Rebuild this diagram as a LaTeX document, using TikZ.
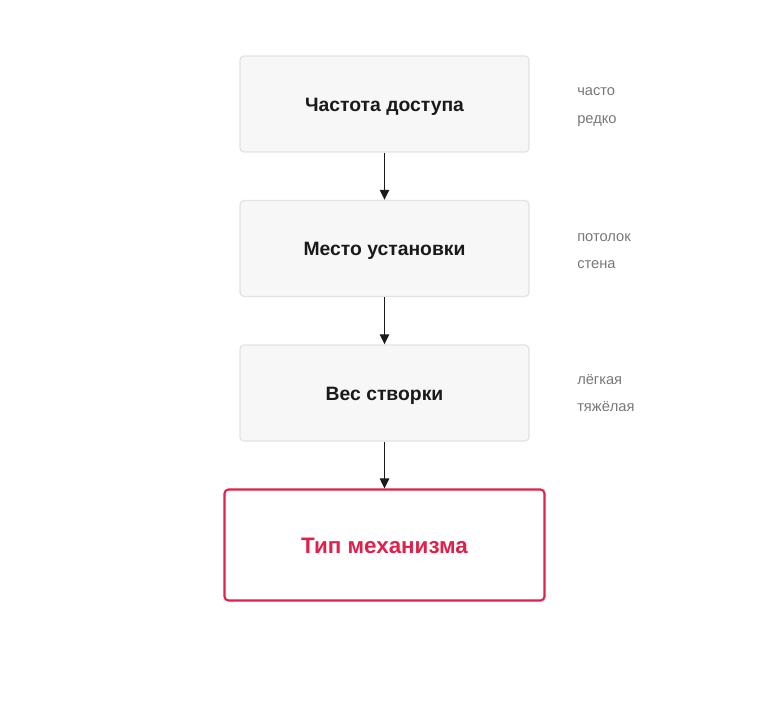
\documentclass[tikz,border=0pt]{standalone}
\usepackage{fontspec}
\setmainfont{Liberation Sans}
\usetikzlibrary{arrows.meta}
\definecolor{boxfill}{HTML}{F7F7F7}
\definecolor{boxline}{HTML}{E3E3E3}
\definecolor{hint}{HTML}{777777}
\definecolor{accent}{HTML}{E0204A}
\definecolor{ink}{HTML}{1A1A1A}
\begin{document}
\begin{tikzpicture}[x=0.75pt,y=-0.75pt,
  factor/.style={draw=boxline,fill=boxfill,line width=1pt,rounded corners=3pt,
    minimum width=289*0.75pt,minimum height=96*0.75pt,inner sep=0pt,
    text height=11.2pt,text depth=0pt,
    font=\fontsize{14.5}{16}\selectfont\bfseries,text=ink},
  result/.style={draw=accent,line width=1.6pt,rounded corners=3pt,
    minimum width=320*0.75pt,minimum height=111*0.75pt,inner sep=0pt,
    text height=12.4pt,text depth=0pt,
    font=\fontsize{16.8}{18}\selectfont\bfseries,text=accent},
  option/.style={anchor=base west,text=hint,inner sep=0pt,font=\fontsize{11}{13}\selectfont},
  link/.style={draw=ink,line width=1.2pt,-{Triangle[length=7.5pt,width=7pt]}}]
  \useasboundingbox (0,0) rectangle (770,706);
  \node[factor] (freq) at (384.5,104) {Частота доступа};
  \node[factor] (place) at (384.5,248.5) {Место установки};
  \node[factor] (weight) at (384.5,393) {Вес створки};
  \node[result] (mech) at (384.5,545) {Тип механизма};
  \draw[link] (freq) -- (place);
  \draw[link] (place) -- (weight);
  \draw[link] (weight) -- (mech);
  \node[option] (often) at (577,96) {часто};
  \node[option] (rare) at (577,123) {редко};
  \node[option] (ceil) at (577,241) {потолок};
  \node[option] (wall) at (577,268) {стена};
  \node[option] (light) at (577,384) {лёгкая};
  \node[option] (heavy) at (577,411) {тяжёлая};
\end{tikzpicture}
\end{document}
